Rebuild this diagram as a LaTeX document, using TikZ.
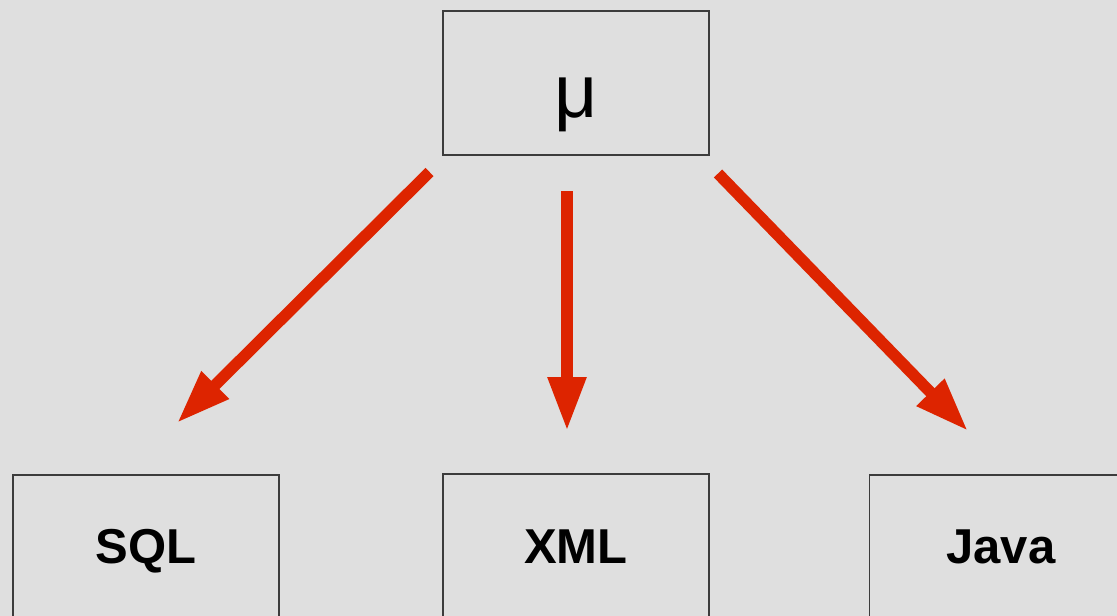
\documentclass[tikz,border=0pt]{standalone}
\usepackage{fontspec}
\setmainfont{Liberation Sans}
\usetikzlibrary{arrows.meta}
\definecolor{bg}{RGB}{223,223,223}
\definecolor{arrowred}{RGB}{221,36,0}
\definecolor{boxline}{RGB}{60,60,60}
\tikzset{
  box/.style={draw=boxline, line width=1.2pt, fill=bg, minimum width=266pt, minimum height=144pt, inner sep=0pt},
  lbl/.style={anchor=base, inner sep=0pt, font=\fontsize{49}{55}\selectfont\bfseries},
  bigarrow/.style={draw=arrowred, line width=11.5pt, -{Triangle[width=36pt, length=54pt]}}
}
\begin{document}
\begin{tikzpicture}[x=1pt,y=-1pt]
\fill[bg] (0,0) rectangle (1117,616);
\useasboundingbox (0,0) rectangle (1117,616);
\clip (0,0) rectangle (1117,616);
% top box
\node[box] (top) at (576,83) {};
\node[anchor=base, inner sep=0pt, font=\fontsize{75}{85}\selectfont] (mulbl) at (576,117) {μ};
% bottom boxes
\node[box, minimum height=150pt] (sql) at (146,550) {};
\node[box, minimum height=150pt] (xml) at (576,549) {};
\node[box, minimum height=150pt] (java) at (1002.5,550) {};
\node[lbl] (sqllbl) at (146,563) {SQL};
\node[lbl] (xmllbl) at (576,563) {XML};
\node[lbl] (javalbl) at (1001,563) {Java};
% arrow end points
\coordinate (s1) at (429.5,172);
\coordinate (e1) at (177,423);
\coordinate (s2) at (567,191);
\coordinate (e2) at (567,431);
\coordinate (s3) at (718,173.5);
\coordinate (e3) at (968,431);
\draw[bigarrow] (s1) -- (e1);
\draw[bigarrow] (s2) -- (e2);
\draw[bigarrow] (s3) -- (e3);
\end{tikzpicture}
\end{document}
